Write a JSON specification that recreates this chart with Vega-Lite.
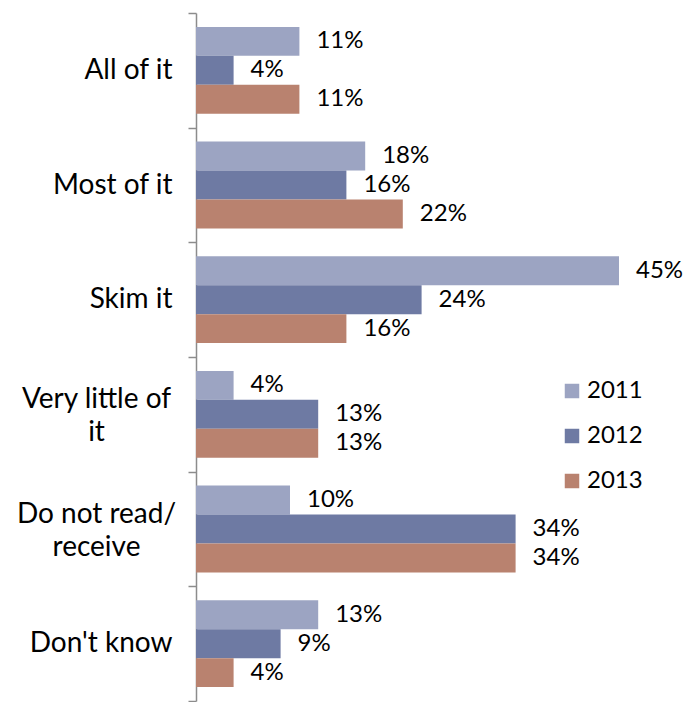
{
  "$schema": "https://vega.github.io/schema/vega-lite/v6.json",
  "width": 470,
  "height": 688,
  "autosize": {"type": "none"},
  "padding": {"left": 196, "top": 13, "right": 34, "bottom": 1},
  "config": {"view": {"stroke": null}, "font": "Lato"},
  "data": {
    "values": [
      {"category": "All of it", "year": "2011", "share": 0.11},
      {"category": "All of it", "year": "2012", "share": 0.04},
      {"category": "All of it", "year": "2013", "share": 0.11},
      {"category": "Most of it", "year": "2011", "share": 0.18},
      {"category": "Most of it", "year": "2012", "share": 0.16},
      {"category": "Most of it", "year": "2013", "share": 0.22},
      {"category": "Skim it", "year": "2011", "share": 0.45},
      {"category": "Skim it", "year": "2012", "share": 0.24},
      {"category": "Skim it", "year": "2013", "share": 0.16},
      {"category": "Very little of it", "year": "2011", "share": 0.04},
      {"category": "Very little of it", "year": "2012", "share": 0.13},
      {"category": "Very little of it", "year": "2013", "share": 0.13},
      {"category": "Do not read/ receive", "year": "2011", "share": 0.10},
      {"category": "Do not read/ receive", "year": "2012", "share": 0.34},
      {"category": "Do not read/ receive", "year": "2013", "share": 0.34},
      {"category": "Don't know", "year": "2011", "share": 0.13},
      {"category": "Don't know", "year": "2012", "share": 0.09},
      {"category": "Don't know", "year": "2013", "share": 0.04}
    ]
  },
  "encoding": {
    "y": {
      "field": "category",
      "type": "nominal",
      "sort": ["All of it", "Most of it", "Skim it", "Very little of it", "Do not read/ receive", "Don't know"],
      "scale": {"paddingInner": 0, "paddingOuter": 0},
      "axis": {
        "title": null,
        "tickBand": "extent",
        "domainColor": "#8c8c8c",
        "domainWidth": 1.5,
        "tickColor": "#8c8c8c",
        "tickWidth": 1.5,
        "tickSize": 8,
        "labelFontSize": 28,
        "labelColor": "#000000",
        "labelLineHeight": 33,
        "labelExpr": "datum.value == 'Very little of it' ? ['Very little of', 'it'] : datum.value == 'Do not read/ receive' ? ['Do not read/', 'receive'] : datum.value",
        "labelAlign": {"condition": {"test": "datum.value == 'Very little of it' || datum.value == 'Do not read/ receive'", "value": "center"}, "value": "right"},
        "labelPadding": {"condition": {"test": "datum.value == 'Very little of it' || datum.value == 'Do not read/ receive'", "value": 92}, "value": 16},
        "labelOffset": {"condition": {"test": "datum.value == 'Very little of it' || datum.value == 'Do not read/ receive'", "value": -15}, "value": 0}
      }
    },
    "yOffset": {"field": "year", "type": "nominal", "sort": ["2011", "2012", "2013"], "scale": {"paddingInner": 0, "paddingOuter": 0.48}},
    "x": {"field": "share", "type": "quantitative", "scale": {"domain": [0, 0.5]}, "axis": null}
  },
  "layer": [
    {
      "mark": {"type": "bar"},
      "encoding": {
        "color": {
          "field": "year",
          "type": "nominal",
          "scale": {"domain": ["2011", "2012", "2013"], "range": ["#9ca4c2", "#6e7aa3", "#b9826f"]},
          "legend": {
            "title": null,
            "orient": "none",
            "legendX": 364,
            "legendY": 366,
            "symbolType": "square",
            "symbolSize": 210,
            "symbolStrokeWidth": 0,
            "labelFontSize": 24,
            "labelColor": "#000000",
            "rowPadding": 21,
            "labelOffset": 3
          }
        }
      }
    },
    {
      "mark": {"type": "text", "align": "left", "baseline": "middle", "dx": 17, "fontSize": 24, "color": "#000000"},
      "encoding": {"text": {"field": "share", "type": "quantitative", "format": ".0%"}}
    }
  ]
}
